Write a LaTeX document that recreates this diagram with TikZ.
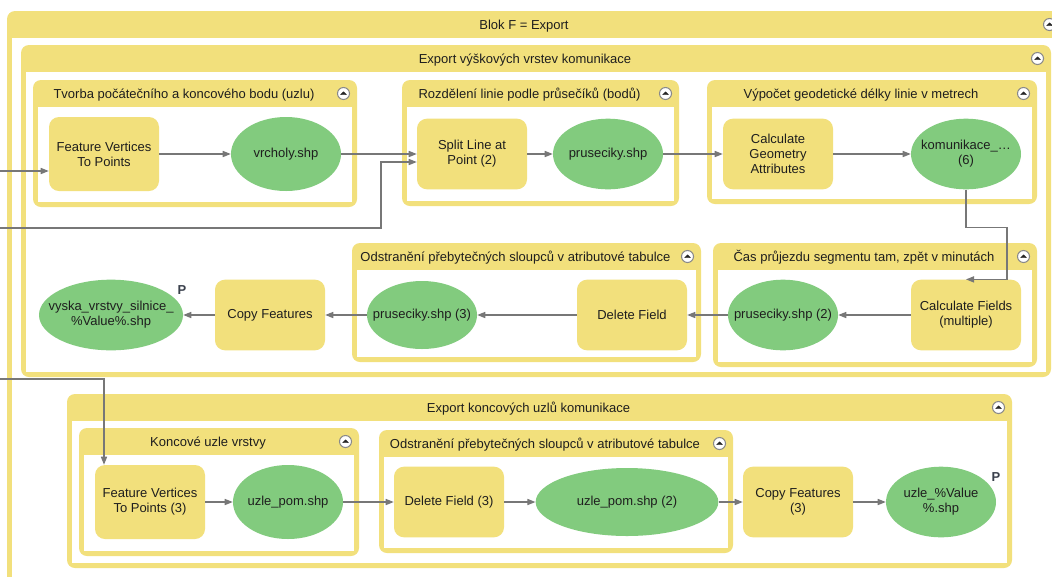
\documentclass[tikz,border=0pt]{standalone}
\usepackage{fontspec}
\setmainfont{Liberation Sans}
\usetikzlibrary{arrows.meta,shapes.geometric,calc}

\definecolor{grpc}{HTML}{F2E07C}
\definecolor{toolc}{HTML}{F2E07C}
\definecolor{datc}{HTML}{82CB7E}
\definecolor{wirec}{HTML}{777777}
\definecolor{inkc}{HTML}{1E1E1E}
\definecolor{pmarkc}{HTML}{3A404C}
\definecolor{btnc}{HTML}{8A8A8A}

\newcommand{\dfont}{\fontsize{9.75}{11.25}\selectfont}
% zero-width centred text block, so that the ellipse keeps its given size
\newcommand{\eltext}[1]{\makebox[0pt]{\begin{tabular}{@{}c@{}}#1\end{tabular}}}

\tikzset{
  tool/.style={rectangle, rounded corners=7.5pt, fill=toolc, minimum width=82.5pt,
    minimum height=53pt, inner sep=0pt, align=center, font=\dfont, text=inkc},
  data/.style={ellipse, fill=datc, minimum width=82.5pt, minimum height=53pt,
    inner sep=0pt, font=\dfont, text=inkc},
  gtitle/.style={font=\dfont, text=inkc, inner sep=0pt, anchor=base},
  btn/.style={circle, draw=btnc, fill=white, line width=0.8pt, minimum size=9pt, inner sep=0pt},
  chev/.style={fill=black!85, draw=black!85, line width=0.3pt, line join=round},
  conn/.style={draw=wirec, line width=0.85pt, -{Triangle[length=6pt,width=4.6pt]}},
  pmark/.style={font=\dfont\bfseries, text=pmarkc, inner sep=0pt},
}

% group frame: #1 name, (#2,#3) top left, (#4,#5) bottom right, #6 title
\newcommand{\grp}[6]{%
  \fill[grpc, rounded corners=6pt] (#2,#3) rectangle (#4,#5);
  \fill[white] ({#2+5},{#3+27}) rectangle ({#4-5},{#5-5});
  \node[gtitle] (#1) at ({(#2+#4)/2-11},{#3+18.8}) {#6};
  \node[btn] (#1b) at ({#4-13.5},{#3+13.5}) {};
  \filldraw[chev] ([xshift=-2.2pt,yshift=-0.9pt]#1b.center) -- ([yshift=1.3pt]#1b.center)
     -- ([xshift=2.2pt,yshift=-0.9pt]#1b.center) -- cycle;
}

\begin{document}
\begin{tikzpicture}[x=0.75pt, y=-0.75pt]
\useasboundingbox (0,0) rectangle (1052,576);
\clip (0,0) rectangle (1052,576);

% frames
\grp{blokF}{7}{11}{1063}{600}{Blok F = Export}
\grp{ev}{21}{45}{1051}{377}{Export výškových vrstev komunikace}
\grp{g1}{33}{80}{357}{207}{Tvorba počátečního a koncového bodu (uzlu)}
\grp{g2}{402}{80}{679}{206}{Rozdělení linie podle průsečíků (bodů)}
\grp{g3}{707}{80}{1037}{204}{Výpočet geodetické délky linie v metrech}
\grp{g4}{352}{243}{701}{362}{Odstranění přebytečných sloupců v atributové tabulce}
\grp{g5}{713}{243}{1037}{367}{Čas průjezdu segmentu tam, zpět v minutách}
\grp{ek}{67}{394}{1012}{568}{Export koncových uzlů komunikace}
\grp{g6}{79}{428}{359}{556}{Koncové uzle vrstvy}
\grp{g7}{379}{430}{733}{553}{Odstranění přebytečných sloupců v atributové tabulce}

% first row
\node[tool, minimum height=55.5pt] (fv1) at (104,154) {Feature Vertices\\To Points};
\node[data, minimum height=55.5pt] (vr) at (286,154) {\eltext{vrcholy.shp}};
\node[tool] (sp) at (472,154) {Split Line at\\Point (2)};
\node[data] (pr1) at (608,154) {\eltext{pruseciky.shp}};
\node[tool] (cga) at (778,154) {Calculate\\Geometry\\Attributes};
\node[data] (kom) at (966,154) {\eltext{komunikace\_…\\(6)}};

% second row
\node[data, minimum width=108pt] (vy) at (111,315) {\eltext{vyska\_vrstvy\_silnice\_\\\%Value\%.shp}};
\node[tool] (cp) at (270,315) {Copy Features};
\node[data, minimum height=51pt] (p3) at (422,315) {\eltext{pruseciky.shp (3)}};
\node[tool] (df) at (632,315) {Delete Field};
\node[data] (p2) at (783,315) {\eltext{pruseciky.shp (2)}};
\node[tool] (cf) at (966,315) {Calculate Fields\\(multiple)};

% third row
\node[tool, minimum height=55.5pt] (fv3) at (150,502) {Feature Vertices\\To Points (3)};
\node[data, minimum height=55.5pt] (up) at (288,502) {\eltext{uzle\_pom.shp}};
\node[tool] (df3) at (449,502) {Delete Field (3)};
\node[data, minimum width=137pt, minimum height=51pt] (up2) at (627,502) {\eltext{uzle\_pom.shp (2)}};
\node[tool] (cp3) at (798,502) {Copy Features\\(3)};
\node[data] (uz) at (941,502) {\eltext{uzle\_\%Value\\\%.shp}};

% parameter marks
\node[pmark] (pv) at (182,290) {P};
\node[pmark] (pu) at (996,477) {P};

% incoming wires from the left
\coordinate (in1) at (-5,171);
\coordinate (in2) at (-5,228);
\coordinate (k2) at (381,228);
\coordinate (in3) at (-5,379);

% connectors
\draw[conn] (in1) -- (fv1.west |- in1);
\draw[conn] (fv1.east) -- (vr.west);
\draw[conn] (vr.east) -- (sp.west);
\draw[conn] (in2) -- (k2) |- ([yshift=-6pt]sp.west);
\draw[conn] (sp.east) -- (pr1.west);
\draw[conn] (pr1.east) -- (cga.west);
\draw[conn] (cga.east) -- (kom.west);
\draw[conn] (kom.south) -- ++(0,38) -- ++(41,0) |- (cf.north);
\draw[conn] (cf.west) -- (p2.east);
\draw[conn] (p2.west) -- (df.east);
\draw[conn] (df.west) -- (p3.east);
\draw[conn] (p3.west) -- (cp.east);
\draw[conn] (cp.west) -- (vy.east);
\draw[conn] (in3) -| ([xshift=-34.5pt]fv3.north);
\draw[conn] (fv3.east) -- (up.west);
\draw[conn] (up.east) -- (df3.west);
\draw[conn] (df3.east) -- (up2.west);
\draw[conn] (up2.east) -- (cp3.west);
\draw[conn] (cp3.east) -- (uz.west);
\end{tikzpicture}
\end{document}
